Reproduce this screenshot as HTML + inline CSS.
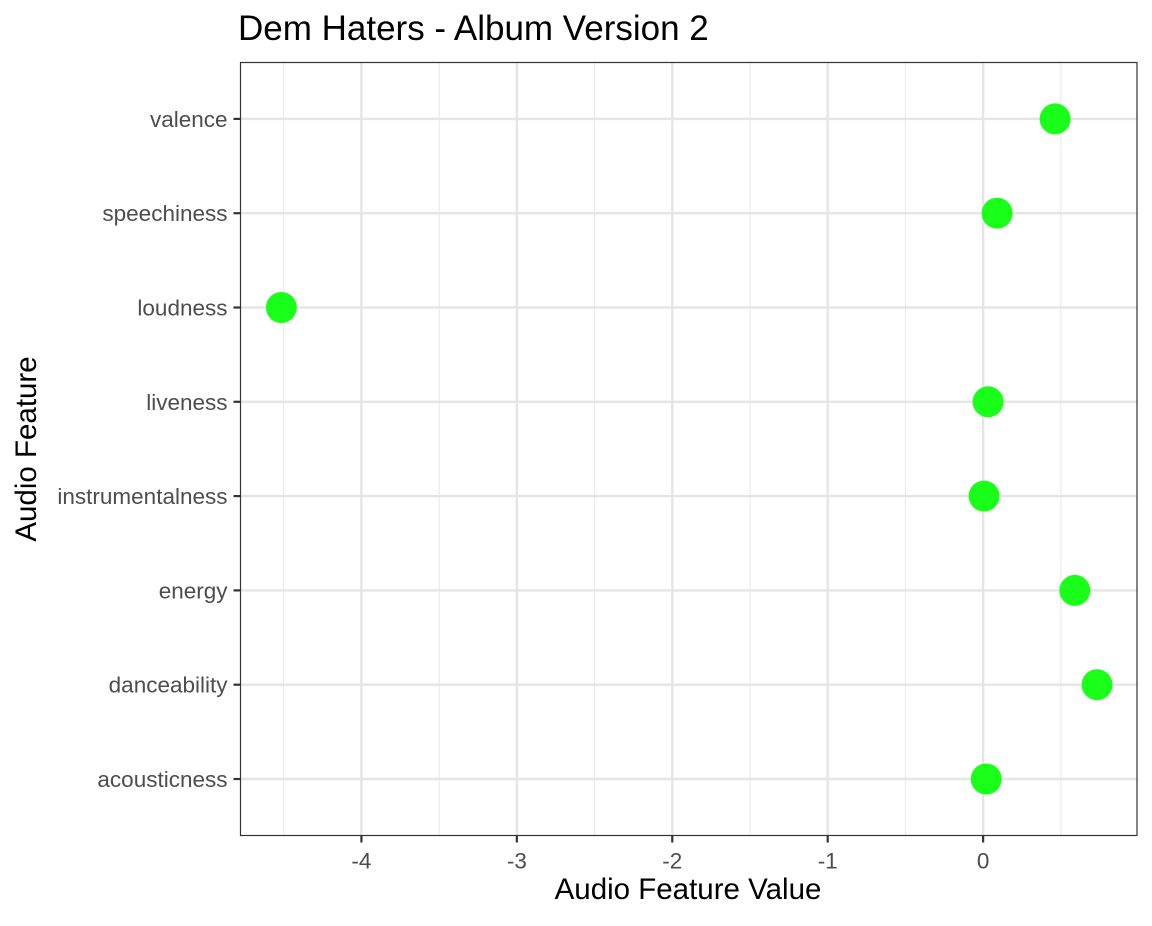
<!DOCTYPE html>
<html><head><meta charset="utf-8"><style>
body{margin:0;background:#fff;}
svg text{font-family:"Liberation Sans",Arial,sans-serif;}
</style></head><body>
<svg width="1152" height="921" xmlns="http://www.w3.org/2000/svg">
<rect width="1152" height="921" fill="#fff"/>
<text x="238" y="40" font-size="35" fill="#000">Dem Haters - Album Version 2</text>
<g id="grid"></g>
<g id="points"></g>
<rect x="240.5" y="62.5" width="896.5" height="773" fill="none" stroke="#333" stroke-width="1.2"/>
<g id="axes"></g>
<text x="688" y="899" font-size="29.5" text-anchor="middle" fill="#000">Audio Feature Value</text>
<text transform="translate(36,449) rotate(-90)" font-size="29.5" text-anchor="middle" fill="#000">Audio Feature</text>
</svg>
<script>
const categories=["acousticness","danceability","energy","instrumentalness","liveness","loudness","speechiness","valence"];
const values=[0.02,0.733,0.59,0.006,0.032,-4.515,0.09,0.463];
const xTicks=[-4,-3,-2,-1,0];
const xTickLabels=["-4","-3","-2","-1","0"];
const NS="http://www.w3.org/2000/svg";
const L=240.5,R=1137,T=62.5,B=835.5;
const xmin=-4.778,xmax=0.99;
function x(v){return L+(v-xmin)/(xmax-xmin)*(R-L);}
function y(i){return 779-i*94.3;}
function mk(t,a,p){const e=document.createElementNS(NS,t);for(const k in a)e.setAttribute(k,a[k]);p.appendChild(e);return e;}
const g=document.getElementById('grid'),pts=document.getElementById('points'),ax=document.getElementById('axes');
for(let v=-4.5;v<=0.5;v+=1){const l=mk('line',{x1:x(v),x2:x(v),y1:T,y2:B,stroke:'#ebebeb','stroke-width':1.2},g);

}
xTicks.forEach((v,i)=>{const l=mk('line',{x1:x(v),x2:x(v),y1:T,y2:B,stroke:'#e5e5e5','stroke-width':2.4},g);


const t=mk('line',{x1:x(v),x2:x(v),y1:B,y2:B+7,stroke:'#333','stroke-width':2.2},ax);


const tx=mk('text',{x:x(v),y:B+33,'font-size':22.5,'text-anchor':'middle',fill:'#4d4d4d'},ax);tx.textContent=xTickLabels[i];

});
categories.forEach((c,i)=>{const l=mk('line',{x1:L,x2:R,y1:y(i),y2:y(i),stroke:'#e5e5e5','stroke-width':2.4},g);


const t=mk('line',{x1:L-7,x2:L,y1:y(i),y2:y(i),stroke:'#333','stroke-width':2.2},ax);


const tx=mk('text',{x:L-13,y:y(i)+8,'font-size':22.5,'text-anchor':'end',fill:'#4d4d4d'},ax);tx.textContent=c;


const p=mk('circle',{cx:x(values[i]),cy:y(i),r:15.5,fill:'#1aff1a'},pts);

});
</script>
</body></html>
